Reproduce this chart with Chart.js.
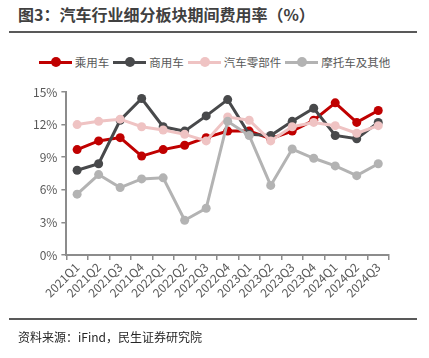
<!DOCTYPE html>
<html>
<head>
<meta charset="utf-8">
<script src="https://cdn.jsdelivr.net/npm/chart.js@4/dist/chart.umd.min.js"></script>
<style>
    body { margin: 0; background: #fff; font-family: "Noto Sans CJK SC", "Noto Sans", sans-serif; }
    #wrap { position: relative; width: 429px; height: 358px; overflow: hidden; }
    #title { position: absolute; left: 18px; top: 2px; font-size: 16px; font-weight: bold; color: #404040; white-space: nowrap; }
    .rule { position: absolute; left: 9px; width: 408px; height: 2px; background: #595959; }
    #legend { position: absolute; left: 0; width: 429px; top: 54px; display: flex; justify-content: center; font-size: 11.5px; color: #595959; }
    .item { display: flex; align-items: center; margin: 0 2px; }
    .mark { position: relative; width: 33px; height: 3px; margin-right: 3px; }
    .mark i { position: absolute; left: 12px; top: -3.5px; width: 10px; height: 10px; border-radius: 50%; }
    #source { position: absolute; left: 18px; top: 328px; font-size: 12px; color: #262626; }
    canvas { position: absolute; left: 0; top: 0; }
</style>
</head>
<body>
<div id="wrap">
    <div id="title">图3：汽车行业细分板块期间费用率（%）</div>
    <div class="rule" style="top:31px"></div>
    <div id="legend"></div>
    <canvas id="lineChart" width="429" height="358"></canvas>
    <div class="rule" style="top:318px"></div>
    <div id="source">资料来源：iFind，民生证券研究院</div>
</div>
<script>
const quarters = ['2021Q1','2021Q2','2021Q3','2021Q4','2022Q1','2022Q2','2022Q3','2022Q4',
    '2023Q1','2023Q2','2023Q3','2023Q4','2024Q1','2024Q2','2024Q3'];
const passenger = [9.7, 10.5, 10.8, 9.1, 9.7, 10.1, 10.8, 11.4, 11.4, 10.7, 11.4, 12.4, 14.0, 12.2, 13.3];
const commercial = [7.8, 8.4, 12.4, 14.4, 11.8, 11.4, 12.8, 14.3, 11.1, 11.0, 12.3, 13.5, 11.0, 10.7, 12.2];
const parts = [12.0, 12.3, 12.5, 11.8, 11.5, 11.1, 10.5, 12.7, 12.4, 10.5, 11.8, 12.2, 11.9, 11.2, 11.9];
const motorcycle = [5.6, 7.4, 6.2, 7.0, 7.1, 3.2, 4.3, 12.3, 11.0, 6.4, 9.75, 8.9, 8.2, 7.3, 8.4];
const yTicks = [0, 3, 6, 9, 12, 15];

const names = ['乘用车', '商用车', '汽车零部件', '摩托车及其他'];
const colors = ['#C00000', '#48494b', '#EFC3C3', '#B3B3B3'];
const seriesList = [passenger, commercial, parts, motorcycle];

// html legend
const legend = document.getElementById('legend');
names.forEach((n, i) => {
    const item = document.createElement('div');
    item.className = 'item';
    item.innerHTML = `<span class="mark" style="background:${colors[i]}"><i style="background:${colors[i]}"></i></span>${n}`;
    legend.appendChild(item);
});

const axisColor = '#8c8c8c';
const tickFont = { family: '"Noto Sans CJK SC", "Noto Sans", sans-serif', size: 12 };

const ctx = document.getElementById('lineChart').getContext('2d');
new Chart(ctx, {
    type: 'line',
    data: {
        labels: quarters,
        datasets: seriesList.map((d, i) => ({
            label: names[i],
            data: d,
            borderColor: colors[i],
            backgroundColor: colors[i],
            borderWidth: 3,
            pointRadius: 4.5,
            pointHoverRadius: 4.5,
            pointBorderWidth: 0,
            fill: false,
            tension: 0,
            order: 3 - i
        }))
    },
    options: {
        responsive: false,
        animation: false,
        layout: { padding: { top: 92, right: 40, left: 29, bottom: 58 } },
        plugins: {
            legend: { display: false },
            tooltip: { enabled: false }
        },
        scales: {
            x: {
                offset: true,
                grid: { offset: true, drawOnChartArea: false, color: axisColor, tickLength: 5, lineWidth: 1.5 },
                border: { color: axisColor, width: 2 },
                ticks: { color: '#595959', font: tickFont, autoSkip: false, minRotation: 45, maxRotation: 45, padding: 0 }
            },
            y: {
                min: 0,
                max: 15,
                afterBuildTicks: (scale) => { scale.ticks = yTicks.map(v => ({ value: v })); },
                grid: { drawOnChartArea: false, color: axisColor, tickLength: 5, lineWidth: 1.5 },
                border: { color: axisColor, width: 2 },
                ticks: {
                    color: '#595959',
                    font: tickFont,
                    padding: 4,
                    callback: function (value) {
                        return `${value}%`
                    }
                }
            }
        }
    }
});
</script>
</body>
</html>
